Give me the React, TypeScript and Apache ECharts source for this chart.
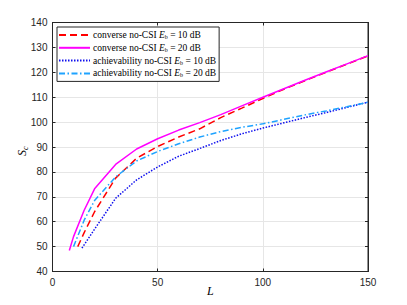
import React, { useEffect, useRef } from "react";
import * as echarts from "echarts";

const xTicks = [0, 50, 100, 150];
const yTicks = [40, 50, 60, 70, 80, 90, 100, 110, 120, 130, 140];

const convLow_L = [12, 15, 20, 30, 40, 50, 60, 70, 80, 90, 100, 110, 120, 130, 140, 150];
const convLow_S = [50, 55.5, 64, 77.5, 85.5, 90.2, 94, 97.3, 101.8, 105.6, 109.5, 113.2, 116.6, 120, 123.3, 126.6];

const convHigh_L = [8, 10, 15, 20, 30, 40, 50, 60, 70, 80, 90, 100, 110, 120, 130, 140, 150];
const convHigh_S = [48.4, 54, 64.5, 73.2, 83, 89.2, 93.3, 96.8, 99.8, 103, 106.5, 110, 113.4, 116.8, 120.1, 123.4, 126.7];

const achLow_L = [14, 20, 30, 40, 50, 60, 70, 80, 90, 100, 110, 120, 130, 140, 150];
const achLow_S = [49.4, 57, 69.4, 76.8, 82, 86.3, 89.4, 92.6, 95.3, 97.6, 99.7, 101.8, 103.8, 105.9, 108];

const achHigh_L = [10, 15, 20, 30, 40, 50, 60, 70, 80, 90, 100, 110, 120, 130, 140, 150];
const achHigh_S = [50, 60.5, 68.5, 78, 84.4, 88.2, 91.3, 94, 96.2, 97.9, 99.3, 101.1, 102.9, 104.5, 106.2, 108];

const seriesNames = [
  "converse no-CSI Eb = 10 dB",
  "converse no-CSI Eb = 20 dB",
  "achievability no-CSI Eb = 10 dB",
  "achievability no-CSI Eb = 20 dB",
];

const zip = (a: number[], b: number[]) => a.map((v, i) => [v, b[i]]);

export default function App() {
  const ref = useRef<HTMLDivElement>(null);
  useEffect(() => {
    if (!ref.current) return;
    const chart = echarts.init(ref.current, undefined, { renderer: "svg" });
    const axisColor = "#262626";
    const serif = "Liberation Serif";
    const sans = "Liberation Sans";
    const gridLine = { show: true, lineStyle: { color: "#e6e6e6", width: 1 } };
    const mkSeries = (name: string, data: number[][], color: string, type: any, width: number) => ({
      name,
      type: "line",
      data,
      showSymbol: false,
      symbol: "none",
      lineStyle: { color, type, width },
      itemStyle: { color },
      z: 3,
    });
    chart.setOption({
      animation: false,
      backgroundColor: "#ffffff",
      textStyle: { fontFamily: serif },
      grid: {
        left: 52.5,
        right: 39,
        top: 22.5,
        bottom: 33.5,
        show: true,
        borderColor: axisColor,
        borderWidth: 1,
        backgroundColor: "#ffffff",
      },
      legend: {
        left: 57,
        top: 27,
        orient: "vertical",
        itemWidth: 31,
        itemHeight: 8,
        itemGap: 2.8,
        padding: [3, 3, 3, 1],
        backgroundColor: "#ffffff",
        borderColor: axisColor,
        borderWidth: 1,
        borderRadius: 0,
        itemStyle: { opacity: 0 },
        data: seriesNames,
        formatter: (n: string) => {
          const m = n.match(/^(.*)Eb = (.*)$/);
          if (!m) return n;
          return `{t|${m[1]}}{i|E}{s|b}{t| = ${m[2]}}`;
        },
        textStyle: {
          fontFamily: serif,
          fontSize: 9.5,
          color: "#000",
          padding: [0, 0, 0, -2],
          rich: {
            t: { fontFamily: serif, fontSize: 9.5, color: "#000" },
            i: { fontFamily: serif, fontSize: 9.5, fontStyle: "italic", color: "#000" },
            s: { fontFamily: serif, fontSize: 6, color: "#000", verticalAlign: "bottom", padding: [4, 0, 0, 0] },
          },
        },
      },
      xAxis: [
        {
          type: "value",
          min: 0,
          max: 150,
          interval: 50,
          axisLine: { show: true, onZero: false, lineStyle: { color: axisColor } },
          axisTick: { show: true, inside: true, length: 3, lineStyle: { color: axisColor } },
          axisLabel: { color: axisColor, fontFamily: sans, fontSize: 10, margin: 6 },
          splitLine: gridLine,
        },
        {
          type: "value",
          position: "top",
          min: 0,
          max: 150,
          interval: 50,
          axisLine: { show: true, onZero: false, lineStyle: { color: axisColor } },
          axisTick: { show: true, inside: true, length: 3, lineStyle: { color: axisColor } },
          axisLabel: { show: false },
          splitLine: { show: false },
        },
      ],
      yAxis: [
        {
          type: "value",
          min: 40,
          max: 140,
          interval: 10,
          axisLine: { show: true, onZero: false, lineStyle: { color: axisColor } },
          axisTick: { show: true, inside: true, length: 3, lineStyle: { color: axisColor } },
          axisLabel: { color: axisColor, fontFamily: sans, fontSize: 10, margin: 5 },
          splitLine: gridLine,
        },
        {
          type: "value",
          position: "right",
          min: 40,
          max: 140,
          interval: 10,
          axisLine: { show: true, onZero: false, lineStyle: { color: axisColor } },
          axisTick: { show: true, inside: true, length: 3, lineStyle: { color: axisColor } },
          axisLabel: { show: false },
          splitLine: { show: false },
        },
      ],
      graphic: [
        {
          type: "text",
          left: 207,
          top: 285,
          style: { text: "L", font: `italic 12px ${serif}`, fill: "#000" },
        },
        {
          type: "text",
          x: 15,
          y: 156,
          rotation: Math.PI / 2,
          style: {
            text: "{i|S}{s|c}",
            fill: "#000",
            rich: {
              i: { fontFamily: serif, fontSize: 12, fontStyle: "italic", fill: "#000" },
              s: { fontFamily: serif, fontSize: 8, fontStyle: "italic", fill: "#000", verticalAlign: "bottom", padding: [6, 0, 0, 0] },
            },
          },
        },
      ],
      series: [
        mkSeries(seriesNames[0], zip(convLow_L, convLow_S), "#ff0000", [7, 4], 1.5),
        mkSeries(seriesNames[1], zip(convHigh_L, convHigh_S), "#ff00ff", "solid", 1.5),
        mkSeries(seriesNames[2], zip(achLow_L, achLow_S), "#1010ee", [1.5, 1.5], 1.5),
        mkSeries(seriesNames[3], zip(achHigh_L, achHigh_S), "#1fa3ff", [6, 2.5, 1.5, 2.5], 1.5),
      ],
    });
    return () => chart.dispose();
  }, []);
  return <div ref={ref} style={{ width: 407, height: 305, position: "absolute", left: 0, top: 0 }} />;
}
